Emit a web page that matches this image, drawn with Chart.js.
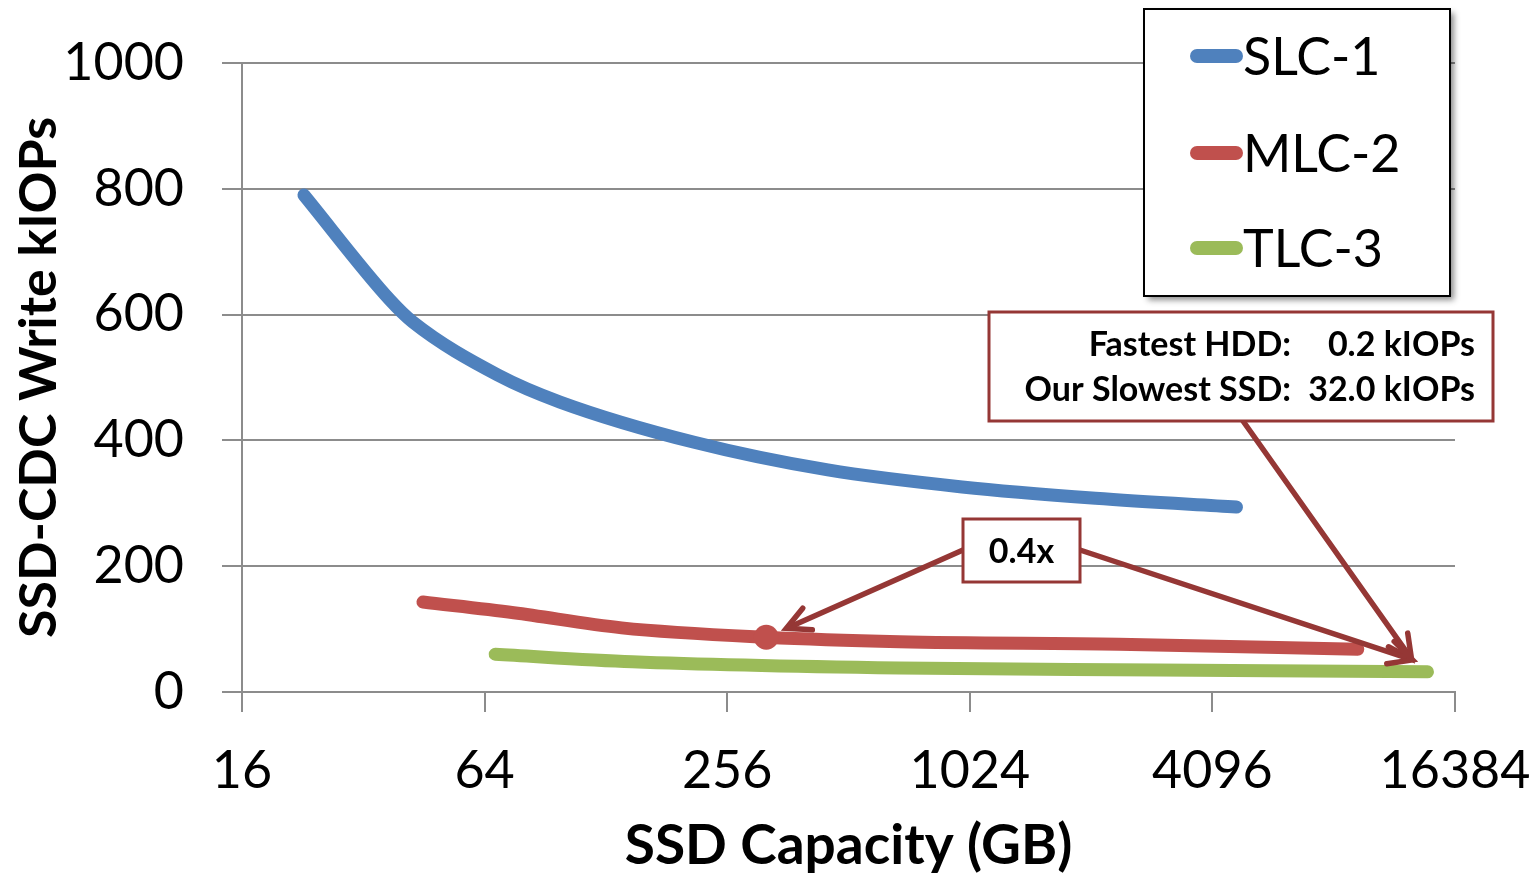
<!DOCTYPE html>
<html>
<head>
<meta charset="utf-8">
<title>SSD-CDC Write kIOPs vs SSD Capacity</title>
<script src="https://cdn.jsdelivr.net/npm/chart.js@4.4.1/dist/chart.umd.min.js"></script>
<style>
  html, body { margin: 0; padding: 0; background: #ffffff; }
  #wrap { width: 1539px; height: 879px; }
</style>
</head>
<body>
<div id="wrap"><canvas id="chart" width="1539" height="879"></canvas></div>
<script>
// ---- data -------------------------------------------------------------
const seriesNames = ['SLC-1', 'MLC-2', 'TLC-3'];

const slcCapacityGB = [22.8, 37.3, 42.5, 69, 98.5, 212, 455, 980, 2100, 4700];
const slcWriteKIOPs = [790, 623, 588, 504, 461, 397, 353, 326, 308, 294];

const mlcCapacityGB = [45, 75.6, 140, 320, 685, 2400, 9400];
const mlcWriteKIOPs = [143, 126, 102, 87, 80, 76, 68];

const tlcCapacityGB = [68, 149, 685, 3000, 14000];
const tlcWriteKIOPs = [60, 48, 38, 35, 32.0];

const xTickValues = [16, 64, 256, 1024, 4096, 16384];
const yTickValues = [0, 200, 400, 600, 800, 1000];

const highlightCapacityGB = 320;       // MLC point called out by the ratio box
const ratioText = '0.4x';
const hddVsSsdRows = [
  ['Fastest HDD:', '0.2 kIOPs'],
  ['Our Slowest SSD:', '32.0 kIOPs']
];

// ---- styling ----------------------------------------------------------
const COLORS = {
  slc: '#4F81BD',
  mlc: '#C0504D',
  tlc: '#9BBB59',
  callout: '#953735',
  grid: '#8C8C8C',
  text: '#000000'
};
const FONT = 'Lato, "Open Sans", "Liberation Sans", sans-serif';

function points(xs, ys) {
  return xs.map((x, i) => ({ x: x, y: ys[i] }));
}

function seriesStyle(color) {
  return {
    borderColor: color,
    backgroundColor: color,
    borderWidth: 13,
    borderCapStyle: 'round',
    borderJoinStyle: 'round',
    cubicInterpolationMode: 'monotone',
    fill: false,
    pointRadius: 0,
    pointHoverRadius: 0
  };
}

const datasets = [
  Object.assign({ label: seriesNames[0], data: points(slcCapacityGB, slcWriteKIOPs) }, seriesStyle(COLORS.slc)),
  Object.assign({ label: seriesNames[1], data: points(mlcCapacityGB, mlcWriteKIOPs) }, seriesStyle(COLORS.mlc), {
    pointRadius: ctx => (ctx.raw && ctx.raw.x === highlightCapacityGB ? 12.5 : 0),
    pointBorderWidth: 0,
    pointBackgroundColor: COLORS.mlc
  }),
  Object.assign({ label: seriesNames[2], data: points(tlcCapacityGB, tlcWriteKIOPs) }, seriesStyle(COLORS.tlc))
];

// ---- helpers for the drawn overlays ----------------------------------
function arrow(ctx, x0, y0, x1, y1, color) {
  const ang = Math.atan2(y0 - y1, x0 - x1);
  const barb = 26, spread = 27 * Math.PI / 180;
  ctx.save();
  ctx.strokeStyle = color;
  ctx.lineWidth = 5.5;
  ctx.lineCap = 'round';
  ctx.beginPath();
  ctx.moveTo(x0, y0);
  ctx.lineTo(x1 + Math.cos(ang) * 3, y1 + Math.sin(ang) * 3);
  ctx.stroke();
  ctx.lineJoin = 'miter';
  ctx.beginPath();
  ctx.moveTo(x1 + Math.cos(ang + spread) * barb, y1 + Math.sin(ang + spread) * barb);
  ctx.lineTo(x1, y1);
  ctx.lineTo(x1 + Math.cos(ang - spread) * barb, y1 + Math.sin(ang - spread) * barb);
  ctx.stroke();
  ctx.restore();
}

function boxedRect(ctx, x, y, w, h, stroke, lw) {
  ctx.save();
  ctx.fillStyle = '#ffffff';
  ctx.fillRect(x, y, w, h);
  ctx.strokeStyle = stroke;
  ctx.lineWidth = lw;
  ctx.strokeRect(x, y, w, h);
  ctx.restore();
}

// Legend box in the upper right corner
const legendPlugin = {
  id: 'boxLegend',
  afterDraw(chart) {
    const ctx = chart.ctx;
    const bx = 1144, by = 9, bw = 306, bh = 287;
    ctx.save();
    ctx.shadowColor = 'rgba(0,0,0,0.45)';
    ctx.shadowBlur = 6;
    ctx.shadowOffsetX = 4;
    ctx.shadowOffsetY = 4;
    ctx.fillStyle = '#ffffff';
    ctx.fillRect(bx, by, bw, bh);
    ctx.restore();
    ctx.save();
    ctx.strokeStyle = '#000000';
    ctx.lineWidth = 2;
    ctx.strokeRect(bx, by, bw, bh);
    const rowY = [56, 153, 248];
    chart.data.datasets.forEach((ds, i) => {
      const y = rowY[i];
      ctx.strokeStyle = ds.borderColor;
      ctx.lineWidth = 14;
      ctx.lineCap = 'round';
      ctx.beginPath();
      ctx.moveTo(1197, y);
      ctx.lineTo(1236, y);
      ctx.stroke();
      ctx.fillStyle = COLORS.text;
      ctx.font = '52px ' + FONT;
      ctx.textBaseline = 'alphabetic';
      ctx.textAlign = 'left';
      ctx.fillText(ds.label, 1243, y + 19);
    });
    ctx.restore();
  }
};

// Callout boxes and arrows
const calloutPlugin = {
  id: 'callouts',
  afterDraw(chart) {
    const ctx = chart.ctx;
    const xs = chart.scales.x, ys = chart.scales.y;

    // anchor points taken from the series themselves
    const mi = mlcCapacityGB.indexOf(highlightCapacityGB);
    const mx = xs.getPixelForValue(mlcCapacityGB[mi]);
    const my = ys.getPixelForValue(mlcWriteKIOPs[mi]);
    const ti = tlcCapacityGB.length - 1;
    const tx = xs.getPixelForValue(tlcCapacityGB[ti]);
    const ty = ys.getPixelForValue(tlcWriteKIOPs[ti]);
    const endTip = { x: tx - 16, y: ty - 13 };

    // HDD vs SSD box
    const b1 = { x: 989, y: 312, w: 504, h: 109 };
    arrow(ctx, 1243, b1.y + b1.h, endTip.x, endTip.y, COLORS.callout);
    boxedRect(ctx, b1.x, b1.y, b1.w, b1.h, COLORS.callout, 3);
    ctx.save();
    ctx.fillStyle = COLORS.text;
    ctx.font = 'bold 34px ' + FONT;
    ctx.textBaseline = 'alphabetic';
    ctx.textAlign = 'right';
    hddVsSsdRows.forEach((row, i) => {
      const by = 356 + i * 45;
      ctx.fillText(row[0], 1291, by);
      ctx.fillText(row[1], 1475, by);
    });
    ctx.restore();

    // ratio box
    const b2 = { x: 963, y: 519, w: 117, h: 63 };
    const sx = b2.x, sy = b2.y + 31;
    const dx = sx - mx, dy = sy - my, d = Math.hypot(dx, dy);
    const tipA = { x: mx + dx / d * 22, y: my + dy / d * 22 };
    arrow(ctx, sx, sy, tipA.x, tipA.y, COLORS.callout);
    arrow(ctx, b2.x + b2.w, sy, endTip.x + 1, endTip.y + 1, COLORS.callout);
    boxedRect(ctx, b2.x, b2.y, b2.w, b2.h, COLORS.callout, 3);
    ctx.save();
    ctx.fillStyle = COLORS.text;
    ctx.font = 'bold 34px ' + FONT;
    ctx.textAlign = 'center';
    ctx.textBaseline = 'alphabetic';
    ctx.fillText(ratioText, b2.x + b2.w / 2, 563);
    ctx.restore();
  }
};

new Chart(document.getElementById('chart'), {
  type: 'line',
  data: { datasets: datasets },
  options: {
    responsive: false,
    animation: false,
    devicePixelRatio: 1,
    layout: { padding: { left: 0, right: 84, top: 63, bottom: 0 } },
    plugins: {
      legend: { display: false },
      tooltip: { enabled: false }
    },
    scales: {
      x: {
        type: 'logarithmic',
        min: 16,
        max: 16384,
        afterBuildTicks: s => { s.ticks = xTickValues.map(v => ({ value: v })); },
        afterFit: s => { s.height = 187; s.paddingLeft = 0; s.paddingRight = 0; },
        ticks: {
          autoSkip: false,
          maxRotation: 0,
          padding: 28,
          color: COLORS.text,
          font: { family: FONT, size: 52 },
          callback: v => String(v)
        },
        grid: { drawOnChartArea: false, drawTicks: true, tickLength: 20, color: COLORS.grid, lineWidth: 2 },
        border: { display: true, color: COLORS.grid, width: 2 },
        title: {
          display: true,
          text: 'SSD Capacity (GB)',
          color: COLORS.text,
          font: { family: FONT, size: 55, weight: 'bold', lineHeight: 1.2 },
          padding: { top: 0, bottom: 0 }
        }
      },
      y: {
        min: 0,
        max: 1000,
        afterBuildTicks: s => { s.ticks = yTickValues.map(v => ({ value: v })); },
        afterFit: s => { s.width = 242; s.paddingTop = 0; s.paddingBottom = 0; },
        ticks: {
          padding: 38,
          color: COLORS.text,
          font: { family: FONT, size: 52 },
          callback: v => String(v)
        },
        grid: { drawTicks: true, tickLength: 20, color: COLORS.grid, lineWidth: 2 },
        border: { display: true, color: COLORS.grid, width: 2 },
        title: {
          display: true,
          text: 'SSD-CDC Write kIOPs',
          color: COLORS.text,
          font: { family: FONT, size: 52, weight: 'bold', lineHeight: 1.2 },
          padding: { top: 8, bottom: 0 }
        }
      }
    }
  },
  plugins: [legendPlugin, calloutPlugin]
});
</script>
</body>
</html>
